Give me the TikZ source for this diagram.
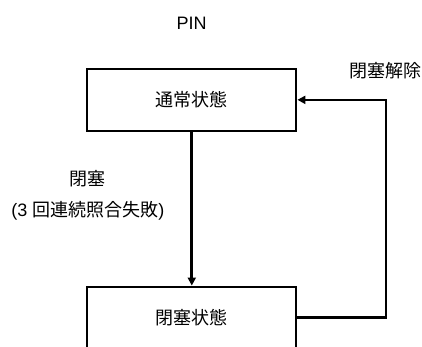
\documentclass[tikz,border=0pt]{standalone}
\usepackage{fontspec}
\setmainfont{Liberation Sans}
\newfontfamily\cjk{Noto Sans CJK JP}
\usetikzlibrary{arrows.meta}
\begin{document}
\begin{tikzpicture}[x=1pt,y=-1pt,
  every node/.style={font=\fontsize{18}{21}\selectfont},
  statebox/.style={draw, line width=2.2pt, minimum width=209pt, minimum height=61.7pt, inner sep=0pt},
  label/.style={inner sep=0pt},
  flow/.style={line width=3pt, -{Triangle[length=8pt,width=8pt]}},
  back/.style={line width=2.3pt, -{Triangle[length=8pt,width=8pt]}}]
\useasboundingbox (0,0) rectangle (422,347);
\clip (0,0) rectangle (422,347);
\node[label] (pin) at (191.7,23.3) {PIN};
\node[statebox] (normal) at (191.8,99.85) {\cjk 通常状態};
\node[statebox] (locked) at (191.8,317.5) {\cjk 閉塞状態};
\node[label] (lab1) at (87.3,179) {\cjk 閉塞};
\node[label] (lab2) at (87.8,210.5) {(3 {\cjk 回連続照合失敗})};
\node[label] (lab3) at (385.8,70.3) {\cjk 閉塞解除};
\coordinate (c1) at (386,317.5);
\coordinate (c2) at (386,99.85);
\draw[flow] (normal.south) -- (locked.north);
\draw[back] (locked.east) -- (c1) -- (c2) -- (normal.east);
\end{tikzpicture}
\end{document}
